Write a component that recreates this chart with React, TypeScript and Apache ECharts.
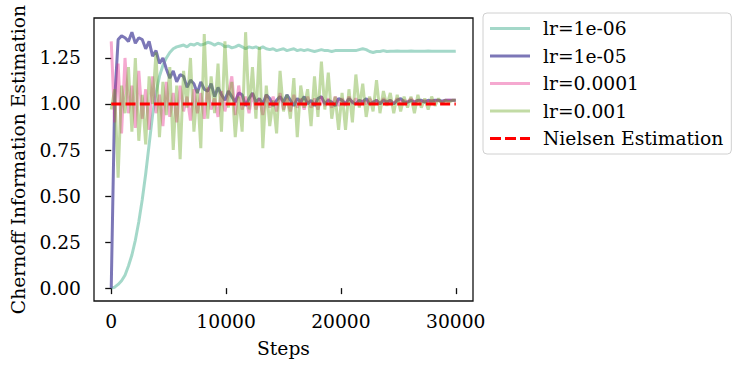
import React, { useEffect, useRef } from "react";
import * as echarts from "echarts";

// Sampling interval of the logged runs (steps between points)
const STEP = 300;

const lr1e6: number[] = [
  0.0, 0.005, 0.02, 0.04, 0.07, 0.12, 0.18, 0.26, 0.36, 0.48,
  0.62, 0.78, 0.94, 1.06, 1.15, 1.21, 1.25, 1.28, 1.3, 1.31,
  1.315, 1.32, 1.31, 1.325, 1.32, 1.33, 1.32, 1.325, 1.335, 1.33,
  1.32, 1.33, 1.325, 1.31, 1.315, 1.305, 1.31, 1.32, 1.31, 1.3,
  1.31, 1.305, 1.31, 1.3, 1.31, 1.3, 1.295, 1.3, 1.29, 1.295,
  1.3, 1.29, 1.295, 1.3, 1.29, 1.295, 1.29, 1.295, 1.29, 1.285,
  1.29, 1.295, 1.29, 1.29, 1.285, 1.29, 1.29, 1.29, 1.29, 1.29,
  1.29, 1.29, 1.295, 1.3, 1.295, 1.285, 1.28, 1.285, 1.285, 1.29,
  1.285, 1.287, 1.286, 1.288, 1.287, 1.286, 1.287, 1.288, 1.286, 1.287,
  1.286, 1.287, 1.288, 1.287, 1.286, 1.287, 1.286, 1.287, 1.287, 1.286,
  1.287,
];

const lr1e5: number[] = [
  0.0, 1.02, 1.35, 1.37, 1.36, 1.34, 1.39, 1.33, 1.36, 1.35,
  1.3, 1.34, 1.26, 1.29, 1.22, 1.25, 1.19, 1.14, 1.18, 1.12,
  1.16, 1.15, 1.09, 1.13, 1.11, 1.06, 1.12, 1.08, 1.07, 1.11,
  1.04, 1.09, 1.05, 1.02, 1.07, 1.04, 1.01, 1.06, 1.05, 0.99,
  1.03, 1.06, 1.01, 1.03, 1.0, 1.05, 1.03, 0.99, 1.02, 1.04,
  1.01, 1.05, 1.02, 0.99, 1.03, 1.01, 1.04, 1.0, 1.02, 0.99,
  1.03, 1.04, 1.0, 1.02, 1.01, 0.99, 1.03, 1.02, 1.0, 1.03,
  1.01, 1.0, 1.02, 1.01, 1.03, 1.0, 1.01, 1.02, 1.0, 1.02,
  1.01, 1.02, 1.0, 1.02, 1.03, 1.01, 1.01, 1.02, 1.01, 1.02,
  1.02, 1.01, 1.02, 1.015, 1.02, 1.02, 1.015, 1.02, 1.02, 1.02,
  1.02,
];

const lr1e4: number[] = [
  1.34, 0.9, 1.22, 0.84, 1.25, 0.95, 1.1, 0.87, 1.18, 0.92,
  1.08, 0.86, 1.15, 0.95, 1.05, 0.88, 1.12, 0.93, 1.06, 0.9,
  1.1, 0.96, 1.04, 0.91, 1.08, 0.95, 1.06, 0.92, 1.09, 0.97,
  1.03, 0.93, 1.07, 0.96, 1.05, 1.15, 0.94, 1.1, 0.97, 1.04,
  0.95, 1.06, 0.97, 1.03, 0.94, 1.05, 0.98, 1.04, 0.96, 1.06,
  0.97, 1.03, 0.96, 1.05, 0.98, 1.03, 0.97, 1.04, 0.98, 1.03,
  0.97, 1.04, 0.99, 1.03, 0.98, 1.04, 0.99, 1.03, 0.99, 1.04,
  1.0, 1.03, 0.99, 1.02, 1.0, 1.03, 1.0, 1.02, 1.0, 1.03,
  1.01, 1.02, 1.0, 1.03, 1.01, 1.02, 1.01, 1.03, 1.01, 1.02,
  1.01, 1.02, 1.01, 1.02, 1.015, 1.02, 1.01, 1.02, 1.02, 1.02,
  1.02,
];

const lr1e3: number[] = [
  0.97, 1.08, 0.6, 1.1, 0.95, 1.2, 0.85, 1.25, 0.8, 1.05,
  0.78, 1.15, 1.0, 1.28, 0.82, 1.12, 0.94, 1.2, 0.75, 1.1,
  0.7, 1.18, 0.98, 1.25, 0.85, 1.08, 0.76, 1.38, 0.92, 1.15,
  0.95, 1.22, 0.85, 1.34, 0.98, 1.12, 0.82, 1.04, 0.85, 1.39,
  0.97, 1.2, 0.92, 1.31, 0.76, 1.1, 0.88, 1.02, 0.84, 1.18,
  0.96, 1.05, 0.92, 1.14, 0.82, 1.1, 0.98, 1.08, 0.88, 1.15,
  0.93, 1.23, 0.97, 1.17, 0.92, 1.04, 0.86, 1.06, 0.86, 1.08,
  0.9, 1.16, 0.98, 1.11, 0.93, 1.04, 0.96, 1.13, 0.95, 1.07,
  0.99, 1.06, 0.95, 1.05, 0.96, 1.04, 0.98, 1.04, 0.95, 1.05,
  0.98, 1.03, 0.97, 1.04, 0.99, 1.03, 1.0, 1.02, 1.01, 1.02,
  1.02,
];

const nielsenSteps: number[] = [0, 30000];
const nielsenValue = 1.0;

const seriesNames: string[] = ["lr=1e-06", "lr=1e-05", "lr=0.0001", "lr=0.001", "Nielsen Estimation"];
const xTicks: number[] = [0, 10000, 20000, 30000];
const yTicks: number[] = [0, 0.25, 0.5, 0.75, 1.0, 1.25];

const FONT = "DejaVu Serif";
const FS = 18.7;

const SOLID_ICON = "path://M0,0H40V3H0Z";
const DASH_ICON = "path://M0,0H11V3H0Z M15,0H26V3H15Z M30,0H40V3H30Z";

function toPairs(vals: number[]): [number, number][] {
  return vals.map((v, i) => [i * STEP, v]);
}

export default function App() {
  const ref = useRef<HTMLDivElement>(null);
  useEffect(() => {
    if (!ref.current) return;
    const chart = echarts.init(ref.current, null, { renderer: "svg" });
    const lw = 3;
    const mk = (name: string, vals: [number, number][], color: string, extra: any = {}) => ({
      name,
      type: "line",
      data: vals,
      symbol: "none",
      showSymbol: false,
      lineStyle: { color, width: lw, ...extra },
      itemStyle: { color },
      z: 2,
    });
    chart.setOption({
      animation: false,
      grid: {
        left: 94,
        top: 18,
        width: 379,
        height: 283,
        show: true,
        borderColor: "#111",
        borderWidth: 1.3,
        backgroundColor: "transparent",
      },
      xAxis: {
        type: "value",
        min: -1500,
        max: 31500,
        name: "Steps",
        nameLocation: "middle",
        nameGap: 38,
        nameTextStyle: { fontFamily: FONT, fontSize: FS, color: "#000", verticalAlign: "top" },
        axisLine: { show: false },
        splitLine: { show: false },
        axisTick: { show: true, length: 6, lineStyle: { color: "#111", width: 1.3 }, customValues: xTicks },
        axisLabel: {
          customValues: xTicks,
          margin: 11,
          fontFamily: FONT,
          fontSize: FS,
          color: "#000",
          formatter: (v: number) => String(v),
        },
      },
      yAxis: {
        type: "value",
        min: -0.07,
        max: 1.467,
        name: "Chernoff Information Estimation",
        nameLocation: "middle",
        nameGap: 64,
        nameTextStyle: { fontFamily: FONT, fontSize: FS, color: "#000" },
        axisLine: { show: false },
        splitLine: { show: false },
        axisTick: { show: true, length: 6, lineStyle: { color: "#111", width: 1.3 }, customValues: yTicks },
        axisLabel: {
          customValues: yTicks,
          margin: 13,
          fontFamily: FONT,
          fontSize: FS,
          color: "#000",
          formatter: (v: number) => v.toFixed(2),
        },
      },
      legend: {
        orient: "vertical",
        left: 483,
        top: 13,
        padding: [6, 8, 6, 7],
        itemWidth: 40,
        itemHeight: 3,
        itemGap: 8.5,
        symbolKeepAspect: false,
        borderColor: "#d0d0d0",
        borderWidth: 1,
        borderRadius: 4,
        backgroundColor: "#fff",
        data: seriesNames.map((n, i) => ({ name: n, icon: i === 4 ? DASH_ICON : SOLID_ICON })),
        textStyle: { fontFamily: FONT, fontSize: FS, color: "#000", lineHeight: 19, padding: [0, 0, 0, 8] },
      },
      series: [
        mk(seriesNames[0], toPairs(lr1e6), "rgba(27,158,119,0.4)"),
        mk(seriesNames[1], toPairs(lr1e5), "rgba(117,112,179,0.95)"),
        mk(seriesNames[2], toPairs(lr1e4), "rgba(231,41,138,0.4)"),
        mk(seriesNames[3], toPairs(lr1e3), "rgba(102,166,30,0.4)"),
        mk(
          seriesNames[4],
          nielsenSteps.map((s) => [s, nielsenValue]),
          "#ff0000",
          { type: [10, 4.3] }
        ),
      ],
    });
    return () => chart.dispose();
  }, []);
  return (
    <div
      ref={ref}
      style={{ position: "fixed", left: 0, top: 0, width: 747, height: 372, background: "#fff" }}
    />
  );
}
